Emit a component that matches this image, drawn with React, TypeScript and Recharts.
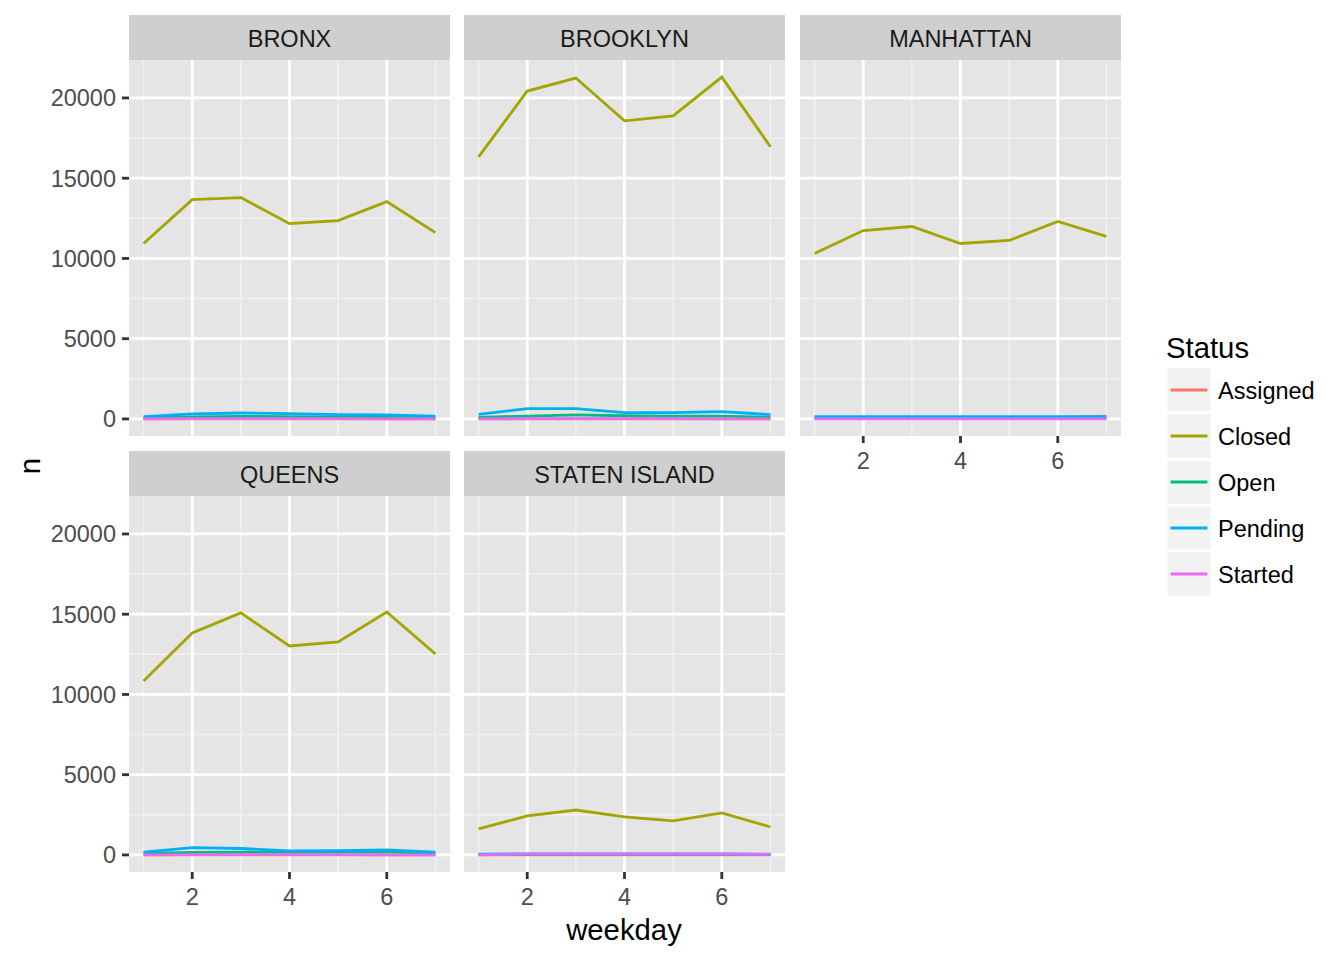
import React from 'react';
import { LineChart, Line, XAxis, YAxis, CartesianGrid } from 'recharts';

const STATUSES = ['Assigned', 'Closed', 'Open', 'Pending', 'Started'];
const COLORS = ['#F8766D', '#A3A500', '#00BF7D', '#00B0F6', '#E76BF3'];
const WEEKDAYS = [1, 2, 3, 4, 5, 6, 7];
const X_TICKS = [2, 4, 6];
const X_MINOR = [1, 3, 5, 7];
const Y_TICKS = [0, 5000, 10000, 15000, 20000];
const Y_MINOR = [2500, 7500, 12500, 17500];

const BRONX: Record<string, number[]> = {
  Assigned: [5, 6, 6, 6, 5, 5, 4],
  Closed: [10930, 13660, 13790, 12170, 12360, 13540, 11610],
  Open: [60, 120, 160, 150, 110, 100, 70],
  Pending: [150, 320, 370, 330, 270, 250, 170],
  Started: [10, 15, 15, 15, 15, 10, 5],
};
const BROOKLYN: Record<string, number[]> = {
  Assigned: [5, 6, 6, 6, 5, 5, 4],
  Closed: [16330, 20430, 21240, 18570, 18880, 21300, 16960],
  Open: [100, 180, 250, 200, 180, 170, 100],
  Pending: [290, 640, 640, 390, 390, 450, 270],
  Started: [10, 15, 15, 15, 15, 10, 5],
};
const MANHATTAN: Record<string, number[]> = {
  Assigned: [100, 90, 90, 90, 90, 100, 170],
  Closed: [10310, 11740, 11990, 10930, 11120, 12300, 11370],
  Open: [40, 45, 45, 40, 40, 40, 35],
  Pending: [140, 150, 150, 140, 140, 140, 140],
  Started: [10, 10, 10, 10, 10, 10, 8],
};
const QUEENS: Record<string, number[]> = {
  Assigned: [5, 6, 6, 6, 5, 5, 4],
  Closed: [10840, 13830, 15080, 13020, 13270, 15140, 12520],
  Open: [100, 160, 170, 180, 190, 200, 120],
  Pending: [170, 450, 400, 250, 260, 310, 180],
  Started: [10, 15, 15, 15, 15, 10, 5],
};
const STATEN_ISLAND: Record<string, number[]> = {
  Assigned: [2, 2, 2, 2, 2, 2, 2],
  Closed: [1620, 2430, 2800, 2370, 2120, 2620, 1740],
  Open: [20, 30, 40, 30, 30, 30, 20],
  Pending: [50, 70, 70, 70, 60, 60, 50],
  Started: [5, 50, 55, 55, 45, 45, 35],
};

const BOROUGHS = ['BRONX', 'BROOKLYN', 'MANHATTAN', 'QUEENS', 'STATEN ISLAND'];
const BOROUGH_DATA = [BRONX, BROOKLYN, MANHATTAN, QUEENS, STATEN_ISLAND];

const FONT = '"Liberation Sans", Arial, Helvetica, sans-serif';

const allVals = BOROUGH_DATA.flatMap((b) => STATUSES.flatMap((s) => b[s]));
const yMin = Math.min(...allVals);
const yMax = Math.max(...allVals);
const ySpan = yMax - yMin;
const Y_DOMAIN: [number, number] = [yMin - 0.05 * ySpan, yMax + 0.05 * ySpan];
const xSpan = WEEKDAYS[WEEKDAYS.length - 1] - WEEKDAYS[0];
const X_DOMAIN: [number, number] = [WEEKDAYS[0] - 0.05 * xSpan, WEEKDAYS[WEEKDAYS.length - 1] + 0.05 * xSpan];

const COL_LEFT = [129, 464, 800];
const PANEL_W = 321;
const ROW_STRIP_TOP = [15, 451];
const STRIP_H = 45;
const PANEL_H = 376;
const Y_AXIS_W = 129;
const X_AXIS_H = 50;

function toRows(series: Record<string, number[]>) {
  return WEEKDAYS.map((d, i) => {
    const row: Record<string, number> = { weekday: d };
    STATUSES.forEach((s) => {
      row[s] = series[s][i];
    });
    return row;
  });
}

const tickStyle = { fill: '#4D4D4D', fontSize: 23.5, fontFamily: FONT };
const tickLineStyle = { stroke: '#333333', strokeWidth: 2.8 };

function Panel({ idx }: { idx: number }) {
  const col = idx % 3;
  const row = Math.floor(idx / 3);
  const showY = col === 0;
  const showX = row === 1 || idx === 2;
  const panelLeft = COL_LEFT[col];
  const panelTop = ROW_STRIP_TOP[row] + STRIP_H;
  const w = PANEL_W + (showY ? Y_AXIS_W : 0);
  const h = PANEL_H + (showX ? X_AXIS_H : 0);
  const data = toRows(BOROUGH_DATA[idx]);
  return (
    <>
      <div
        style={{
          position: 'absolute',
          left: panelLeft,
          top: ROW_STRIP_TOP[row],
          width: PANEL_W,
          height: STRIP_H,
          boxSizing: 'border-box',
          paddingTop: 4,
          background: '#CFCFCF',
          color: '#1A1A1A',
          fontFamily: FONT,
          fontSize: 23.5,
          display: 'flex',
          alignItems: 'center',
          justifyContent: 'center',
        }}
      >
        {BOROUGHS[idx]}
      </div>
      <div style={{ position: 'absolute', left: panelLeft - (showY ? Y_AXIS_W : 0), top: panelTop }}>
        <LineChart width={w} height={h} data={data} margin={{ top: 0, right: 0, bottom: 0, left: 0 }}>
          <CartesianGrid
            fill="#E5E5E5"
            fillOpacity={1}
            stroke="#F2F2F2"
            strokeWidth={1.4}
            horizontalValues={Y_MINOR}
            verticalValues={X_MINOR}
          />
          <CartesianGrid
            stroke="#FFFFFF"
            strokeWidth={2.8}
            horizontalValues={Y_TICKS}
            verticalValues={X_TICKS}
          />
          <XAxis
            type="number"
            dataKey="weekday"
            domain={X_DOMAIN}
            allowDataOverflow
            ticks={X_TICKS}
            interval={0}
            hide={!showX}
            height={X_AXIS_H}
            axisLine={false}
            tickSize={7}
            tickMargin={9}
            tick={tickStyle}
            tickLine={tickLineStyle}
          />
          <YAxis
            type="number"
            domain={Y_DOMAIN}
            allowDataOverflow
            ticks={Y_TICKS}
            interval={0}
            hide={!showY}
            width={Y_AXIS_W}
            axisLine={false}
            tickSize={7}
            tickMargin={6}
            tick={tickStyle}
            tickLine={tickLineStyle}
          />
          {STATUSES.map((s, i) => (
            <Line
              key={s}
              type="linear"
              dataKey={s}
              stroke={COLORS[i]}
              strokeWidth={2.8}
              dot={false}
              activeDot={false}
              isAnimationActive={false}
            />
          ))}
        </LineChart>
      </div>
    </>
  );
}

function Legend() {
  return (
    <div style={{ position: 'absolute', left: 1166, top: 329, fontFamily: FONT }}>
      <div style={{ fontSize: 29.3, color: '#000', height: 38, lineHeight: '38px' }}>Status</div>
      {STATUSES.map((s, i) => (
        <div key={s} style={{ display: 'flex', alignItems: 'center', height: 46 }}>
          <svg width={46} height={46}>
            <rect x={0.7} y={0.7} width={44.6} height={44.6} fill="#F2F2F2" stroke="#FFFFFF" strokeWidth={1.4} />
            <line x1={4.6} x2={41.4} y1={23} y2={23} stroke={COLORS[i]} strokeWidth={2.8} />
          </svg>
          <span style={{ marginLeft: 6, fontSize: 23.5, color: '#000', paddingTop: 2 }}>{s}</span>
        </div>
      ))}
    </div>
  );
}

export default function App() {
  return (
    <div style={{ position: 'absolute', left: 0, top: 0, width: 1344, height: 960, background: '#FFFFFF' }}>
      {BOROUGHS.map((b, i) => (
        <Panel key={b} idx={i} />
      ))}
      <div
        style={{
          position: 'absolute',
          left: 30 - 20,
          top: 466 - 20,
          width: 40,
          height: 40,
          display: 'flex',
          alignItems: 'center',
          justifyContent: 'center',
          transform: 'rotate(-90deg)',
          fontFamily: FONT,
          fontSize: 29.3,
          color: '#000',
        }}
      >
        n
      </div>
      <div
        style={{
          position: 'absolute',
          left: 624 - 100,
          top: 930 - 20,
          width: 200,
          height: 40,
          display: 'flex',
          alignItems: 'center',
          justifyContent: 'center',
          fontFamily: FONT,
          fontSize: 29.3,
          color: '#000',
        }}
      >
        weekday
      </div>
      <Legend />
    </div>
  );
}
